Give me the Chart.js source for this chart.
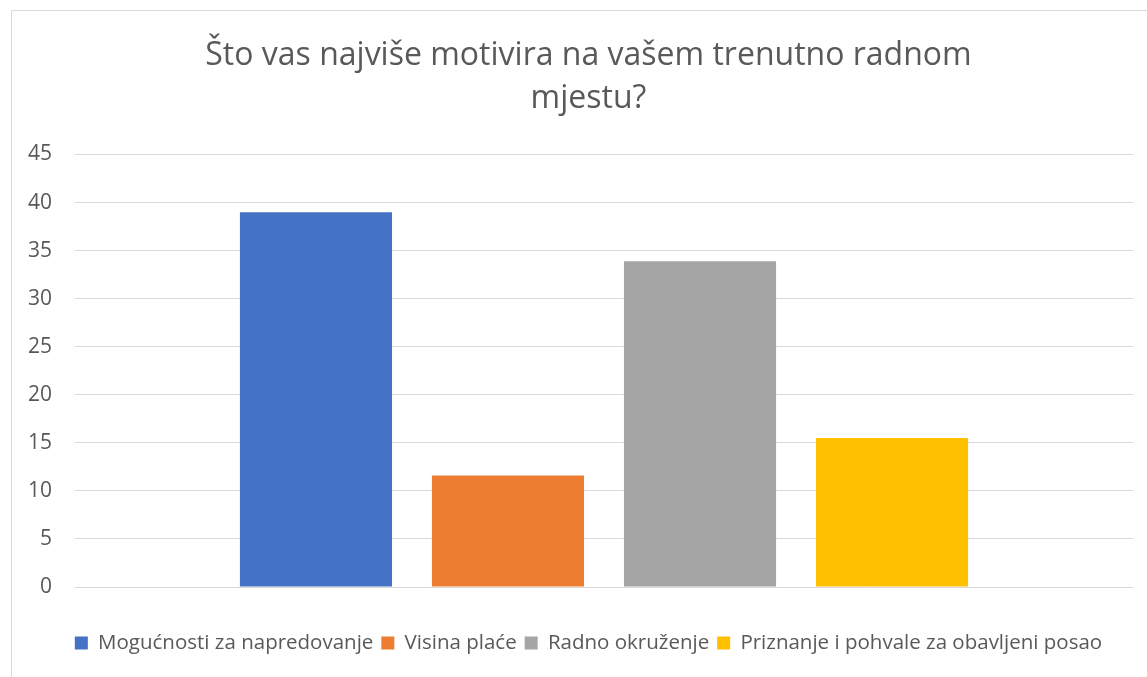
<!DOCTYPE html>
<html>
<head>
<meta charset="utf-8">
<script src="https://cdn.jsdelivr.net/npm/chart.js@4/dist/chart.umd.min.js"></script>
<style>
  body { margin: 0; background: #fff; }
  #frame { position: absolute; left: 11px; top: 10px; width: 1200px; height: 720px; border: 1px solid #d9d9d9; }
  #chart { position: absolute; left: 0; top: 0; }
</style>
</head>
<body>
<div id="frame"></div>
<canvas id="chart" width="1147" height="677"></canvas>
<script>
// chart data
const titleLines = ["Što vas najviše motivira na vašem trenutno radnom", "mjestu?"];
const categories = [""];
const seriesNames = ["Mogućnosti za napredovanje", "Visina plaće", "Radno okruženje", "Priznanje i pohvale za obavljeni posao"];
const seriesValues = [39.0, 11.6, 33.9, 15.5];
const yTicks = [0, 5, 10, 15, 20, 25, 30, 35, 40, 45];

const colors = ["#4472C4", "#ED7D31", "#A5A5A5", "#FFC000"];
const textColor = "#595959";
const gridColor = "#D9D9D9";
const fontFamily = "'Open Sans', 'Noto Sans', sans-serif";

const datasets = seriesNames.map((name, i) => ({
  label: name,
  data: [seriesValues[i]],
  backgroundColor: colors[i],
  borderWidth: 0,
  categoryPercentage: 0.726,
  barPercentage: 0.792
}));

// title and legend are centred a bit right of the canvas middle
const shiftBoxes = {
  id: "shiftBoxes",
  afterLayout(chart) {
    [chart.titleBlock, chart.legend].forEach(b => {
      b.left += 22;
      b.right += 22;
    });
  }
};

new Chart(document.getElementById("chart"), {
  type: "bar",
  data: { labels: categories, datasets },
  plugins: [shiftBoxes],
  options: {
    responsive: false,
    animation: false,
    layout: { padding: { left: 0, right: 14, top: 0, bottom: 13.75 } },
    plugins: {
      title: {
        display: true,
        text: titleLines,
        color: textColor,
        font: { family: fontFamily, size: 32, weight: "normal", lineHeight: 43 / 32 },
        padding: { top: 34, bottom: 34.5 }
      },
      legend: {
        position: "bottom",
        labels: {
          color: textColor,
          font: { family: fontFamily, size: 20.5 },
          boxWidth: 13,
          boxHeight: 13,
          padding: 8
        }
      },
      tooltip: { enabled: false }
    },
    scales: {
      x: {
        ticks: { display: false },
        grid: { display: false },
        border: { display: false },
        afterFit: scale => { scale.height = 37.75; }
      },
      y: {
        min: yTicks[0],
        max: yTicks[yTicks.length - 1],
        afterBuildTicks: scale => { scale.ticks = yTicks.map(v => ({ value: v })); },
        ticks: {
          color: textColor,
          font: { family: fontFamily, size: 21 },
          padding: 23
        },
        grid: { color: gridColor, lineWidth: 1, drawTicks: false },
        border: { display: false },
        afterFit: scale => { scale.width = 75; }
      }
    }
  }
});
</script>
</body>
</html>
